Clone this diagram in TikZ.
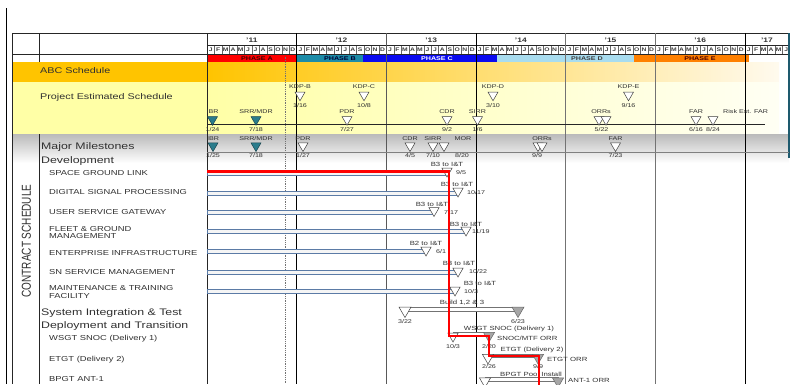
\documentclass[tikz,border=0pt]{standalone}
\usepackage{graphicx}
\usepackage{fontspec}
\setmainfont[FakeStretch=1.3]{Liberation Sans}
\newfontfamily\plainfont{Liberation Sans}
\usetikzlibrary{shapes.geometric}
\definecolor{abcL}{HTML}{FFC400}
\definecolor{abcR}{HTML}{FFFAEE}
\definecolor{pesL}{HTML}{FFFFA6}
\definecolor{pesR}{HTML}{FFFFF4}
\definecolor{txt}{HTML}{303030}
\definecolor{barc}{HTML}{5B7BA6}
\definecolor{phA}{HTML}{FF0000}
\definecolor{phB}{HTML}{1C8CA8}
\definecolor{phC}{HTML}{0A0AF0}
\definecolor{phD}{HTML}{A8DCEF}
\definecolor{phE}{HTML}{FF8000}
\definecolor{tealf}{HTML}{2A7C8C}
\definecolor{teald}{HTML}{1A4650}
\definecolor{edgec}{HTML}{1E5A6E}
\tikzset{
 smt/.style={font=\fontsize{5.5}{6}\selectfont, text=txt, inner sep=0pt},
 labt/.style={font=\fontsize{6}{6.5}\selectfont, text=txt, inner sep=0pt},
 rowl/.style={font=\fontsize{7.2}{7.3}\selectfont, text=txt, anchor=west, inner sep=0pt, align=left},
 secl/.style={font=\fontsize{9.5}{10}\selectfont, text=txt, anchor=west, inner sep=0pt},
 bandl/.style={font=\fontsize{8.3}{9}\selectfont, text=txt, anchor=west, inner sep=0pt},
 monl/.style={font=\bfseries\fontsize{5.2}{6}\selectfont, text=black!75, inner sep=0pt},
 yrl/.style={font=\bfseries\fontsize{6.5}{7}\selectfont, text=black!80, inner sep=0pt},
 phl/.style={font=\bfseries\fontsize{5.5}{6}\selectfont, inner sep=0pt},
 mstri/.style={regular polygon, regular polygon sides=3, shape border rotate=180, minimum size=11.5pt, inner sep=0pt, draw=black!75, line width=0.5pt, fill=white},
 msfill/.style={mstri, fill=tealf, draw=teald},
 msgray/.style={mstri, fill=black!35, draw=black!60},
 devbar/.style={draw=barc, fill=black!4, line width=0.6pt},
 sitbar/.style={draw=black!55, fill=white, line width=0.6pt},
 critpath/.style={draw=red, line width=2.7pt},
 gridl/.style={line width=0.7pt, draw=black!85},
}
\newcommand\msk[8]{\node[#1] (#2) at (#3,#4) {}; \node[smt] (#2l) at (#3,#6) {#5}; \node[smt] (#2d) at (#3,#8) {#7};}
\begin{document}
\begin{tikzpicture}[x=1pt,y=-1pt]
\useasboundingbox (0,0) rectangle (791,384);
% bands
\fill[abcL] (12,62.3) rectangle (207,82.3);
\shade[left color=abcL, right color=abcR] (207,62.3) rectangle (779,82.3);
\fill[pesL] (12,82.3) rectangle (207,134);
\shade[left color=pesL, right color=pesR] (207,82.3) rectangle (779,134);
\shade[top color=black!27, bottom color=white] (12,134) rectangle (789,163);
% phase bars
\fill[phA] (207,54.3) rectangle (296.5,62.3);
\fill[phB] (296.5,54.3) rectangle (363,62.3);
\fill[phC] (363,54.3) rectangle (497,62.3);
\fill[phD] (497,54.3) rectangle (634,62.3);
\fill[phE] (634,54.3) rectangle (749,62.3);
\node[phl, text=black!75!red] (pa) at (257,58.3) {PHASE A};
\node[phl, text=black!80!blue] (pb) at (340,58.3) {PHASE B};
\node[phl, text=white] (pc) at (437,58.3) {PHASE C};
\node[phl, text=black!75] (pd) at (587,58.3) {PHASE D};
\node[phl, text=black!70!red] (pe) at (700,58.3) {PHASE E};
% frame
\draw[line width=0.8pt] (6.7,8) -- (6.7,384);
\draw[gridl] (12,33) -- (789,33);
\draw[gridl] (207,45.7) -- (789,45.7);
\draw[gridl] (12,54.3) -- (789,54.3);
\draw[gridl] (12,33) -- (12,384);
\draw[gridl] (39,33) -- (39,62.3);
\draw[gridl] (39,134) -- (39,384);
\draw[gridl] (207,33) -- (207,384);
\draw[line width=1.5pt, edgec] (789,33) -- (789,158);
\foreach \i in {1,...,77} \draw[black!60, line width=0.4pt] ({207+\i*7.4725},45.7) -- ({207+\i*7.4725},54.3);
\foreach \i/\c in {1/black,2/black!65,3/black,4/black!55,5/black!55,6/black}
  \draw[line width=0.8pt,\c] ({207+\i*89.67},33) -- ({207+\i*89.67},384);
\draw[black!55, line width=0.8pt, densely dotted] (285,56.5) -- (285,384);
% months
\foreach \yy in {0,...,6}{
  \foreach \L [count=\k from 0] in {J,F,M,A,M,J,J,A,S,O,N,D}{
    \pgfmathtruncatemacro\idx{\yy*12+\k}
    \ifnum\idx<78
      \node[monl] (mo\idx) at ({207+(\idx+0.5)*7.4725},50.2) {\L};
    \fi
  }
}
\foreach \i/\t in {0/11,1/12,2/13,3/14,4/15,5/16}
  \node[yrl] (yr\t) at ({207+(\i+0.5)*89.67},40) {'\t};
\node[yrl] (yr17) at (767,40) {'17};
% baselines
\draw[black!85, line width=0.6pt] (207,124.3) -- (765,124.3);
\draw[black!50, line width=0.9pt] (207,152) -- (789,152);
% left labels
\node[bandl] (abc) at (40,71) {ABC Schedule};
\node[bandl] (pes) at (40,97) {Project Estimated Schedule};
\node[secl] (mm) at (41,147) {Major Milestones};
\node[secl] (dev) at (41,161) {Development};
\node[rowl] (sgl) at (49,172.7) {SPACE GROUND LINK};
\node[rowl] (dsp) at (49,192.3) {DIGITAL SIGNAL PROCESSING};
\node[rowl] (usg) at (49,212.3) {USER SERVICE GATEWAY};
\node[rowl] (fgm) at (49,232.3) {FLEET \& GROUND\\MANAGEMENT};
\node[rowl] (ent) at (49,252.7) {ENTERPRISE INFRASTRUCTURE};
\node[rowl] (sns) at (49,272.3) {SN SERVICE MANAGEMENT};
\node[rowl] (mtf) at (49,292) {MAINTENANCE \& TRAINING\\FACILITY};
\node[secl] (sit) at (41,312.7) {System Integration \& Test};
\node[secl] (dat) at (41,326) {Deployment and Transition};
\node[rowl] (wsgt) at (49,338.3) {WSGT SNOC (Delivery 1)};
\node[rowl] (etgt) at (49,359.3) {ETGT (Delivery 2)};
\node[rowl] (bpgt) at (49,379.3) {BPGT ANT-1};
\node[rotate=90, font=\plainfont\fontsize{10}{10}\selectfont, text=txt, inner sep=0pt] (cs) at (26.5,241) {\scalebox{1}[1.3]{CONTRACT SCHEDULE}};
% project estimated schedule - KDPs
\msk{mstri}{kdpb}{300}{95}{KDP-B}{87}{1/16}{105.5}
\msk{mstri}{kdpc}{364}{95}{KDP-C}{87}{10/8}{105.5}
\msk{mstri}{kdpd}{493}{95}{KDP-D}{87}{3/10}{105.5}
\msk{mstri}{kdpe}{628.5}{95}{KDP-E}{87}{9/16}{105.5}
% project estimated schedule - reviews
\msk{msfill}{ibra}{212.5}{119.5}{IBR}{111.5}{1/24}{129.5}
\msk{msfill}{srra}{256}{119.5}{SRR/MDR}{111.5}{7/18}{129.5}
\msk{mstri}{pdra}{347}{119.5}{PDR}{111.5}{7/27}{129.5}
\msk{mstri}{cdra}{447}{119.5}{CDR}{111.5}{9/2}{129.5}
\msk{mstri}{sirra}{477.5}{119.5}{SIRR}{111.5}{1/6}{129.5}
\node[mstri] (orra1) at (599,119.5) {};
\node[mstri] (orra2) at (606,119.5) {};
\node[smt] (orral) at (601,111.5) {ORRs};
\node[smt] (orrad) at (601.5,129.5) {5/22};
\msk{mstri}{fara}{696}{119.5}{FAR}{111.5}{6/16}{129.5}
\node[mstri] (rfar) at (713,119.5) {};
\node[smt] (rfard) at (713,129.5) {8/24};
\node[smt, anchor=west] (rfarl) at (723,111.5) {Risk Est. FAR};
% major milestones
\msk{msfill}{ibrm}{213}{145.8}{IBR}{138.5}{1/25}{155.5}
\msk{msfill}{srrm}{256}{145.8}{SRR/MDR}{138.5}{7/18}{155.5}
\msk{mstri}{pdrm}{303}{145.8}{PDR}{138.5}{1/27}{155.5}
\msk{mstri}{cdrm}{410}{145.8}{CDR}{138.5}{4/5}{155.5}
\msk{mstri}{sirrm}{433}{145.8}{SIRR}{138.5}{7/10}{155.5}
\node[mstri] (morm) at (444,145.8) {};
\node[smt] (morml) at (463,138.5) {MOR};
\node[smt] (mormd) at (462,155.5) {8/20};
\node[mstri] (orrm1) at (538,145.8) {};
\node[mstri] (orrm2) at (542,145.8) {};
\node[smt] (orrml) at (542,138.5) {ORRs};
\node[smt] (orrmd) at (537,155.5) {9/9};
\msk{mstri}{farm}{615.5}{145.8}{FAR}{138.5}{7/23}{155.5}
% development bars
\coordinate (s1) at (207,171); \coordinate (e1) at (447,175);
\coordinate (s2) at (207,191); \coordinate (e2) at (458,195);
\coordinate (s3) at (207,210.5); \coordinate (e3) at (434,214.5);
\coordinate (s4) at (207,229.5); \coordinate (e4) at (466,233.5);
\coordinate (s5) at (207,249.5); \coordinate (e5) at (426,253.5);
\coordinate (s6) at (207,270); \coordinate (e6) at (458,274);
\coordinate (s7) at (207,289); \coordinate (e7) at (455,293);
\foreach \n in {1,...,7} \draw[devbar] (s\n) rectangle (e\n);
\tikzset{devtri/.style={mstri, minimum size=12pt}}
\node[devtri] (d1) at (447,171) {};
\node[labt] (d1l) at (447,164) {B3 to I\&T};
\node[smt, anchor=west] (d1d) at (456,172.5) {9/5};
\node[devtri] (d2) at (458,191) {};
\node[labt] (d2l) at (457,184) {B3 to I\&T};
\node[smt, anchor=west] (d2d) at (467,193) {10/17};
\node[devtri] (d3) at (434,210.5) {};
\node[labt] (d3l) at (432,204) {B3 to I\&T};
\node[smt, anchor=west] (d3d) at (444,213) {7/17};
\node[devtri] (d4) at (466,230) {};
\node[labt] (d4l) at (466,224) {B3 to I\&T};
\node[smt, anchor=west] (d4d) at (472,232) {11/19};
\node[devtri] (d5) at (426,250) {};
\node[labt] (d5l) at (426,243.5) {B2 to I\&T};
\node[smt, anchor=west] (d5d) at (436,252) {6/1};
\node[devtri] (d6) at (458,271) {};
\node[labt] (d6l) at (459,263.5) {B3 to I\&T};
\node[smt, anchor=west] (d6d) at (469,272) {10/22};
\node[devtri] (d7) at (455,290) {};
\node[labt] (d7l) at (480,283.5) {B3 to I\&T};
\node[smt, anchor=west] (d7d) at (464,292) {10/3};
% system integration & test
\coordinate (bs) at (405,307); \coordinate (be) at (518,311);
\draw[sitbar] (bs) rectangle (be);
\node[mstri, minimum size=14pt] (b1) at (405,310.5) {};
\node[msgray, minimum size=14pt] (b2) at (518,310.5) {};
\node[labt] (bl) at (462,303) {Build 1,2 \& 3};
\node[smt] (b1d) at (405,321.5) {3/22};
\node[smt] (b2d) at (518,321.5) {6/23};
% deployment
\coordinate (ws) at (453,332); \coordinate (we) at (489,335);
\draw[sitbar] (ws) rectangle (we);
\node[mstri, minimum size=12pt] (w1) at (453,336) {};
\node[msgray, minimum size=13pt] (w2) at (489,335.5) {};
\node[labt] (wl) at (509,328.5) {WSGT SNOC (Delivery 1)};
\node[smt] (w1d) at (453,346.5) {10/3};
\node[smt] (w2d) at (489,346.5) {2/20};
\node[labt, anchor=west] (wo) at (497,338) {SNOC/MTF ORR};
\coordinate (es) at (488,354); \coordinate (ee) at (538,357.5);
\draw[sitbar] (es) rectangle (ee);
\node[mstri, minimum size=13pt] (et1) at (488,357.5) {};
\node[msgray, minimum size=13pt] (et2) at (538,357.5) {};
\node[labt] (etl) at (532,350) {ETGT (Delivery 2)};
\node[smt] (et1d) at (489,366.5) {2/26};
\node[smt] (et2d) at (538,366.5) {9/9};
\node[labt, anchor=west] (eto) at (547,359) {ETGT ORR};
\coordinate (ps) at (485,377.5); \coordinate (pe) at (558,381);
\draw[sitbar] (ps) rectangle (pe);
\node[mstri, minimum size=13pt] (p1) at (485,381) {};
\node[msgray, minimum size=13pt] (p2) at (558,381) {};
\node[labt] (pl) at (531,374) {BPGT Pool Install};
\node[labt, anchor=west] (po) at (568,380.5) {ANT-1 ORR};
% critical path
\coordinate (r0) at (207,171.5);
\coordinate (r1) at (449,171.5);
\coordinate (r2) at (449,336);
\coordinate (r3) at (489,336);
\coordinate (r4) at (489,356);
\coordinate (r5) at (539,356);
\coordinate (r6) at (539,392);
\draw[critpath] (r0) -- (r1) -- (r2) -- (r3) -- (r4) -- (r5) -- (r6);
\end{tikzpicture}
\end{document}
